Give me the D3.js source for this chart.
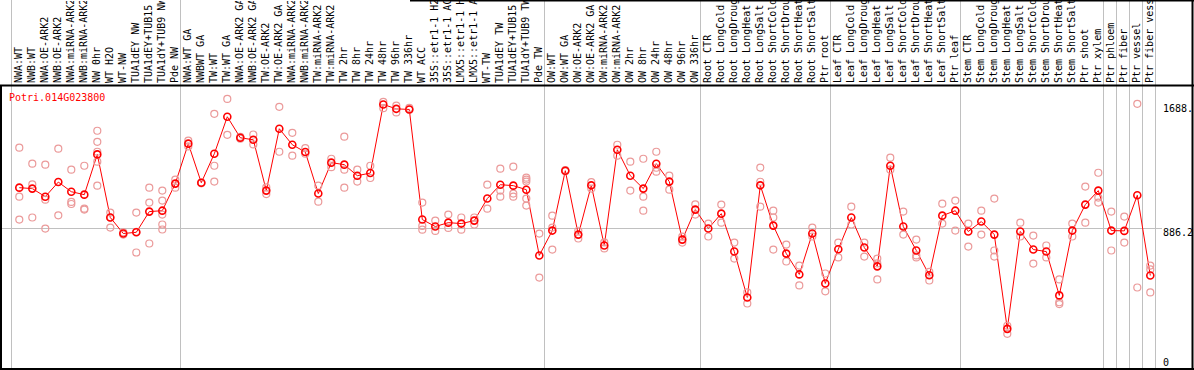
<!DOCTYPE html>
<head>
  <meta charset="utf-8">
  <style>
  body {
    margin: 0;
    background: #fff;
  }

  text {
    font-family: "DejaVu Sans Mono", monospace;
    font-size: 10px;
  }

  .grid {
    stroke: #c0c0c0;
    stroke-width: 1px;
  }

  .mean-line {
    fill: none;
    stroke: #f00;
    stroke-width: 1px;
  }
</style>
</head>
<svg class="chart" width="1194" height="370"></svg>

<script src="https://d3js.org/d3.v7.min.js"></script>
<script>
var categories = [
  "NWA:WT", "NWB:WT", "NWA:OE-ARK2", "NWB:OE-ARK2", "NWA:miRNA-ARK2", "NWB:miRNA-ARK2",
  "NW 0hr", "WT H2O", "WT-NW", "TUA1dEY NW", "TUA1dEY+TUB15 NW", "TUA1dY+TUB9 NW", "Pde NW",
  "NWA:WT GA", "NWBWT GA", "TW:WT", "TW:WT GA", "NWA:OE-ARK2 GA", "NWB:OE-ARK2 GA",
  "TW:OE-ARK2", "TW:OE-ARK2 GA", "NWA:miRNA-ARK2", "NWB:miRNA-ARK2", "TW:miRNA-ARK2",
  "TW:miRNA-ARK2", "TW 2hr", "TW 8hr", "TW 24hr", "TW 48hr", "TW 96hr", "TW 336hr", "WT ACC",
  "35S::etr1-1 H2O", "35S::etr1-1 ACC", "LMX5::etr1-1 H2O", "LMX5::etr1-1 ACC", "WT-TW",
  "TUA1dEY TW", "TUA1dEY+TUB15 TW", "TUA1dY+TUB9 TW", "Pde TW",
  "OW:WT", "OW:WT GA", "OW:OE-ARK2", "OW:OE-ARK2 GA", "OW:miRNA-ARK2", "OW:miRNA-ARK2",
  "OW 2hr", "OW 8hr", "OW 24hr", "OW 48hr", "OW 96hr", "OW 336hr",
  "Root CTR", "Root LongCold", "Root LongDrought", "Root LongHeat", "Root LongSalt",
  "Root ShortCold", "Root ShortDrought", "Root ShortHeat", "Root ShortSalt", "Ptr root",
  "Leaf CTR", "Leaf LongCold", "Leaf LongDrought", "Leaf LongHeat", "Leaf LongSalt",
  "Leaf ShortCold", "Leaf ShortDrought", "Leaf ShortHeat", "Leaf ShortSalt", "Ptr leaf",
  "Stem CTR", "Stem LongCold", "Stem LongDrought", "Stem LongHeat", "Stem LongSalt",
  "Stem ShortCold", "Stem ShortDrought", "Stem ShortHeat", "Stem ShortSalt", "Ptr shoot",
  "Ptr xylem", "Ptr phloem", "Ptr fiber", "Ptr vessel", "Ptr fiber vessel"
];

// mean expression per sample
var means = [
  1147, 1141, 1089, 1183, 1121, 1102, 1361, 955, 852, 860, 993, 999, 1173,
  1430, 1179, 1365, 1603, 1468, 1455, 1128, 1526, 1423, 1376, 1109, 1308, 1295, 1224, 1241,
  1682, 1654, 1650, 942, 897, 922, 916, 935, 1077, 1166, 1160, 1134, 711,
  871, 1256, 845, 1162, 775, 1391, 1224, 1141, 1301, 1186, 813, 1006,
  884, 980, 736, 441, 1162, 903, 723, 589, 852, 531,
  751, 955, 762, 641, 1288, 897, 743, 584, 967, 999,
  865, 929, 845, 239, 865, 749, 736, 454, 871, 1038,
  1128, 871, 869, 1098, 582
];

// individual replicates per sample
var replicates = [
  [1404, 1089, 942], [1301, 1168, 955], [1295, 1070, 884], [1398, 969], [1263, 1055, 1042],
  [1288, 1012, 1006], [1513, 1442, 1378, 1314, 1160], [987, 890, 955], [860, 845],
  [987, 730, 863], [1147, 1051, 788], [1128, 1064, 974, 910, 878], [1199, 1147],
  [1449, 1412], [1179, 1175], [1622, 1288, 1186], [1718, 1487], [1474, 1462], [1489, 1425],
  [1149, 1106], [1667, 1378], [1500, 1353], [1401, 1365], [1160, 1057], [1333, 1279],
  [1475, 1263, 1147], [1263, 1186], [1288, 1209], [1699, 1658], [1674, 1631], [1660, 1648],
  [1051, 901, 877], [935, 869], [974, 888], [955, 877], [955, 910], [1166, 1012],
  [1269, 1128, 1089], [1282, 1109, 1089], [1211, 1199, 1186, 1077, 1032], [852, 569],
  [967, 890, 749], [1260, 1252], [870, 820], [1183, 1141], [795, 756], [1423, 1353],
  [1314, 1128], [1333, 1089, 999], [1378, 1250, 1275], [1224, 1134], [794, 832], [1040, 974],
  [916, 833], [1038, 922], [794, 691], [473, 402], [1276, 1025, 1185], [999, 955, 749],
  [781, 672], [646, 518], [890, 833], [595, 480],
  [794, 698], [1025, 910], [794, 704], [691, 557, 660], [1340, 1263], [993, 845],
  [813, 711, 698], [605, 550], [1044, 916], [1064, 871],
  [916, 768], [999, 845], [1077, 743, 704], [259, 207], [922, 833], [839, 659], [775, 698],
  [557, 410, 398], [916, 833], [1154, 922], [1243, 1083, 1051],
  [993, 743], [961, 794], [1686, 505], [646, 621, 473]
];

var title = "Potri.014G023800";
var tickValues = [0, 886.2, 1688.3];
var tickLabels = ["0", "886.2", "1688."];
var separators = [0, 13, 41, 53, 63, 73, 84, 85, 86, 87, 88];

var svg = d3.select("svg"),
  W = +svg.attr("width"),
  H = +svg.attr("height"),
  headerH = 85;

var x = d3.scaleBand()
  .domain(d3.range(categories.length))
  .range([11.3, 1155.3]);
var px = function(i) { return x(i) + 8; };

var y = d3.scaleLinear().domain([0, 1688.3]).range([366, 103.5]);

svg.append("defs").append("clipPath").attr("id", "hdr")
  .append("rect").attr("x", 0).attr("y", 1).attr("width", W).attr("height", headerH - 1);

// vertical group separators
svg.append("g").selectAll("line")
  .data(separators)
  .enter().append("line")
  .attr("class", "grid")
  .attr("x1", function(d) { return Math.round(11.3 + x.bandwidth() * d) + 0.5; })
  .attr("x2", function(d) { return Math.round(11.3 + x.bandwidth() * d) + 0.5; })
  .attr("y1", 0)
  .attr("y2", H);

// horizontal reference line
svg.append("line")
  .attr("class", "grid")
  .attr("x1", 1).attr("x2", 1162)
  .attr("y1", Math.round(y(886.2)) + 0.5)
  .attr("y2", Math.round(y(886.2)) + 0.5);

// sample labels
svg.append("g").attr("clip-path", "url(#hdr)")
  .selectAll("text")
  .data(categories)
  .enter().append("text")
  .attr("transform", function(d, i) { return "translate(" + (px(i) - 1) + "," + (headerH - 2) + ") rotate(-90)"; })
  .attr("dy", "0.35em")
  .attr("fill", "#000")
  .text(function(d) { return d; });

// y labels
svg.append("g").selectAll("text")
  .data(tickValues)
  .enter().append("text")
  .attr("x", 1163)
  .attr("y", function(d) { return Math.min(y(d) + 8, 366); })
  .attr("fill", "#000")
  .text(function(d, i) { return tickLabels[i]; });

svg.append("text")
  .attr("x", 9)
  .attr("y", 101)
  .attr("fill", "#f00")
  .text(title);

var line = d3.line()
  .x(function(d, i) { return px(i); })
  .y(function(d) { return y(d); });

svg.append("path")
  .datum(means)
  .attr("class", "mean-line")
  .attr("d", line);

var reps = [];
replicates.forEach(function(r, i) {
  r.forEach(function(v) { reps.push({ i: i, v: v }); });
});

svg.append("g").selectAll("circle")
  .data(reps)
  .enter().append("circle")
  .attr("cx", function(d) { return px(d.i); })
  .attr("cy", function(d) { return y(d.v); })
  .attr("r", 3.5)
  .attr("fill", "none")
  .attr("stroke", "#eb9a9a")
  .attr("stroke-width", 1.2);

svg.append("g").selectAll("circle")
  .data(means)
  .enter().append("circle")
  .attr("cx", function(d, i) { return px(i); })
  .attr("cy", function(d) { return y(d); })
  .attr("r", 3.5)
  .attr("fill", "none")
  .attr("stroke", "#f00")
  .attr("stroke-width", 1.6);

// frame: header rule, plot box below it, partial top rule
var frame = svg.append("g").attr("stroke", "#000").attr("stroke-width", 2);
frame.append("line")
  .attr("x1", 0).attr("x2", W)
  .attr("y1", headerH + 0.5).attr("y2", headerH + 0.5);
frame.append("line")
  .attr("x1", 1).attr("x2", 1)
  .attr("y1", headerH).attr("y2", H);
frame.append("line")
  .attr("x1", 1192.5).attr("x2", 1192.5)
  .attr("y1", 0).attr("y2", H);
frame.append("line")
  .attr("x1", 0).attr("x2", W)
  .attr("y1", H - 1).attr("y2", H - 1);
frame.append("line")
  .attr("x1", 410).attr("x2", W)
  .attr("y1", 0.5).attr("y2", 0.5);
</script>
